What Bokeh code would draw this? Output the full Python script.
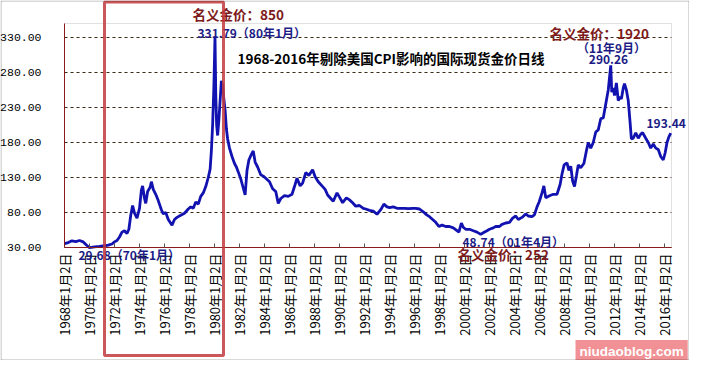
from bokeh.plotting import figure
from bokeh.models import Range1d, FixedTicker, PrintfTickFormatter, Label, BoxAnnotation
from bokeh.embed import file_html
from bokeh.resources import INLINE

# ---- data ----
years = [1968.0, 1968.3, 1968.6, 1968.9, 1969.2, 1969.5, 1969.75, 1970.0, 1970.4, 1970.8,
         1971.2, 1971.5, 1971.8, 1972.0, 1972.2, 1972.4, 1972.6, 1972.8, 1973.0, 1973.15,
         1973.3, 1973.45, 1973.6, 1973.8, 1974.0, 1974.15, 1974.25, 1974.4, 1974.5, 1974.65,
         1974.85, 1974.95, 1975.1, 1975.3, 1975.5, 1975.75, 1975.9, 1976.1, 1976.3, 1976.6,
         1976.8, 1977.0, 1977.3, 1977.6, 1977.9, 1978.1, 1978.3, 1978.5, 1978.7, 1978.9,
         1979.1, 1979.3, 1979.5, 1979.65, 1979.75, 1979.85, 1979.95, 1980.04, 1980.1, 1980.17,
         1980.25, 1980.35, 1980.45, 1980.55, 1980.65, 1980.75, 1980.85, 1980.95, 1981.05, 1981.2,
         1981.4, 1981.6, 1981.75, 1981.9, 1982.1, 1982.3, 1982.45, 1982.6, 1982.75, 1982.95,
         1983.1, 1983.25, 1983.45, 1983.7, 1983.9, 1984.1, 1984.4, 1984.65, 1984.9, 1985.1,
         1985.3, 1985.6, 1985.9, 1986.2, 1986.45, 1986.6, 1986.85, 1987.05, 1987.3, 1987.55,
         1987.85, 1988.05, 1988.3, 1988.6, 1988.85, 1989.05, 1989.3, 1989.5, 1989.8, 1990.0,
         1990.25, 1990.55, 1990.8, 1991.05, 1991.3, 1991.6, 1991.9, 1992.1, 1992.4, 1992.7,
         1993.0, 1993.3, 1993.55, 1993.8, 1994.0, 1994.3, 1994.6, 1994.9, 1995.2, 1995.5,
         1995.85, 1996.1, 1996.4, 1996.7, 1996.95, 1997.2, 1997.45, 1997.7, 1997.95, 1998.2,
         1998.5, 1998.8, 1999.1, 1999.4, 1999.55, 1999.75, 1999.9, 2000.1, 2000.4, 2000.7,
         2001.0, 2001.3, 2001.5, 2001.8, 2002.0, 2002.3, 2002.5, 2002.8, 2003.0, 2003.3,
         2003.6, 2003.85, 2004.1, 2004.3, 2004.6, 2004.9, 2005.1, 2005.4, 2005.6, 2005.8,
         2005.97, 2006.2, 2006.35, 2006.5, 2006.8, 2007.1, 2007.4, 2007.65, 2007.8, 2007.97,
         2008.2, 2008.35, 2008.5, 2008.65, 2008.8, 2008.95, 2009.1, 2009.3, 2009.55, 2009.75,
         2009.9, 2010.1, 2010.3, 2010.5, 2010.7, 2010.9, 2011.1, 2011.3, 2011.5, 2011.7,
         2011.78, 2011.9, 2012.0, 2012.15, 2012.3, 2012.45, 2012.55, 2012.7, 2012.8, 2012.95,
         2013.1, 2013.25, 2013.35, 2013.5, 2013.7, 2013.9, 2014.1, 2014.25, 2014.5, 2014.7,
         2014.9, 2015.1, 2015.3, 2015.5, 2015.7, 2015.9, 2016.05, 2016.2, 2016.35, 2016.5]
prices = [35.5, 37, 39.5, 38.5, 40, 38, 33.5, 29.68, 31, 31.5,
          32.5, 33.5, 35, 38, 40, 45, 52, 54, 50, 56,
          76, 90, 79, 72, 86, 112, 118, 100, 93, 110,
          116, 124, 113, 106, 97, 84, 78, 80, 70, 62,
          70, 73, 76, 79, 85, 88, 86, 95, 92, 103,
          108, 117, 130, 142, 168, 205, 260, 331.79, 250, 205,
          190, 212, 240, 268, 262, 242, 226, 200, 185, 172,
          160, 150, 145, 138, 128, 115, 105, 140, 155, 163,
          168, 152, 145, 134, 132, 129, 124, 114, 110, 93,
          100, 104, 103, 106, 120, 129, 118, 122, 137, 133,
          141, 131, 124, 118, 113, 105, 100, 96, 108, 102,
          94, 101, 98, 94, 89, 90, 86, 85, 83, 82,
          77.5, 84, 92, 88, 87, 88, 86, 86, 86, 85.5,
          86, 86, 85, 81, 77, 74, 70, 66, 60, 62,
          60, 60, 58, 54, 52, 65, 59, 56, 56, 54,
          52, 48.74, 51, 54, 56, 58, 60, 60, 63, 65,
          66, 72, 75, 70, 73, 78, 75, 74, 77, 88,
          95, 108, 118, 101, 104, 106, 106, 120, 135, 148,
          151, 140, 146, 125, 117, 132, 148, 144, 150, 168,
          180, 172, 180, 195, 198, 214, 215, 235, 255, 290.26,
          252, 258, 247, 265, 240, 245, 242, 258, 264, 255,
          240, 208, 185, 186, 194, 186, 192, 194, 186, 180,
          172, 178, 172, 170, 160, 155, 165, 180, 188, 193.44]

tick_years = list(range(1968, 2017, 2))
y_ticks = [30, 80, 130, 180, 230, 280, 330]
x_bounds = (1968.0, 2016.56)
y_bounds = (30, 350)
title_text = "1968-2016年剔除美国CPI影响的国际现货金价日线"

CJK = "Noto Sans CJK SC"
NAVY = "#1c1c86"
MAROON = "#7d1a1a"
AXIS = "#8b1c1c"

# frame covers the whole canvas; axes are drawn at fixed locations inside it
p = figure(width=689, height=360, output_backend="svg", toolbar_location=None,
           x_range=Range1d(1962.88, 2018.0), y_range=Range1d(-131.43, 382.857),
           min_border_left=0, min_border_right=0, min_border_top=0, min_border_bottom=0)
p.background_fill_color = "white"
p.border_fill_color = "white"
p.outline_line_color = None

# plot-area outline (grey top/right; axes cover left/bottom)
p.add_layout(BoxAnnotation(left=x_bounds[0], right=x_bounds[1], bottom=y_bounds[0], top=y_bounds[1],
                           fill_alpha=0, line_color="#9a9a9a", line_width=1, level="underlay"))

p.line(years, prices, line_color="#1212b0", line_width=2.8)

# axes
p.xaxis.fixed_location = y_bounds[0]
p.xaxis.bounds = x_bounds
p.xaxis.ticker = FixedTicker(ticks=tick_years)
p.xaxis.major_label_overrides = {y: f"{y}年1月2日" for y in tick_years}
p.xaxis.major_label_orientation = 1.5708
p.xaxis.major_label_text_font = CJK
p.xaxis.major_label_text_font_size = "13px"
p.xaxis.major_label_text_color = "black"
p.xaxis.major_label_standoff = 6
p.xaxis.axis_line_color = AXIS
p.xaxis.major_tick_line_color = "#555555"
p.xaxis.major_tick_in = 4
p.xaxis.major_tick_out = 0
p.xaxis.minor_tick_line_color = None

p.yaxis.fixed_location = x_bounds[0]
p.yaxis.bounds = y_bounds
p.yaxis.ticker = FixedTicker(ticks=y_ticks)
p.yaxis.formatter = PrintfTickFormatter(format="%.2f")
p.yaxis.major_label_text_font = "Liberation Mono"
p.yaxis.major_label_text_font_size = "11.5px"
p.yaxis.major_label_text_color = "black"
p.yaxis.major_label_standoff = 17
p.yaxis.axis_line_color = AXIS
p.yaxis.major_tick_line_color = None
p.yaxis.minor_tick_line_color = None

p.xgrid.grid_line_color = None
g = p.ygrid[0]
if "cross_bounds" in g.properties():
    g.cross_bounds = x_bounds
    g.grid_line_color = "#3a2a12"
    g.grid_line_dash = "3 3"
    g.grid_line_width = 1
else:
    g.grid_line_color = None
    p.segment(x0=[x_bounds[0]] * len(y_ticks), x1=[x_bounds[1]] * len(y_ticks),
              y0=y_ticks, y1=y_ticks, line_color="#3a2a12", line_dash="3 3", line_width=1,
              level="underlay")

def lab(x, y, text, color, size="13px", align="left"):
    p.add_layout(Label(x=x, y=y, text=text, text_font=CJK, text_font_size=size,
                       text_font_style="bold", text_color=color,
                       text_baseline="middle", text_align=align))

lab(1981.84, 301.4, title_text, "black", "13.5px")
lab(1978.24, 362.9, "名义金价：850", MAROON, "13.5px")
lab(1978.64, 337.1, "331.79（80年1月）", NAVY, "12px")
lab(2006.8, 337.1, "名义金价：1920", MAROON, "13.5px")
lab(2011.76, 315.7, "（11年9月）", NAVY, "12px", "center")
lab(2011.52, 298.6, "290.26", NAVY, "12px", "center")
lab(2014.56, 207.1, "193.44", NAVY, "12px")
lab(1969.12, 20.0, "29.68（70年1月）", NAVY, "12px")
lab(1999.84, 38.6, "48.74（01年4月）", NAVY, "12px")
lab(1999.44, 21.4, "名义金价：252", MAROON, "13.5px")

# highlighted period
p.add_layout(BoxAnnotation(left=1971.2, right=1980.72, top=380.7, bottom=-124.3,
                           fill_alpha=0, line_color="#c23a3e", line_alpha=0.85,
                           line_width=3))

# watermark
p.add_layout(Label(x=2008.88, y=-118.6, text="niudaoblog.com", text_font="Liberation Sans",
                   text_font_size="13.5px", text_font_style="bold", text_color="white",
                   text_baseline="middle", text_align="left",
                   background_fill_color="#f0858a", background_fill_alpha=0.9,
                   padding=4))

# outer frame
p.add_layout(BoxAnnotation(left=0.5, right=688.5, top=0.5, bottom=359.5,
                           left_units="canvas", right_units="canvas",
                           top_units="canvas", bottom_units="canvas",
                           fill_alpha=0, line_color="black", line_width=1))

open("out.html", "w").write(file_html(p, INLINE))
